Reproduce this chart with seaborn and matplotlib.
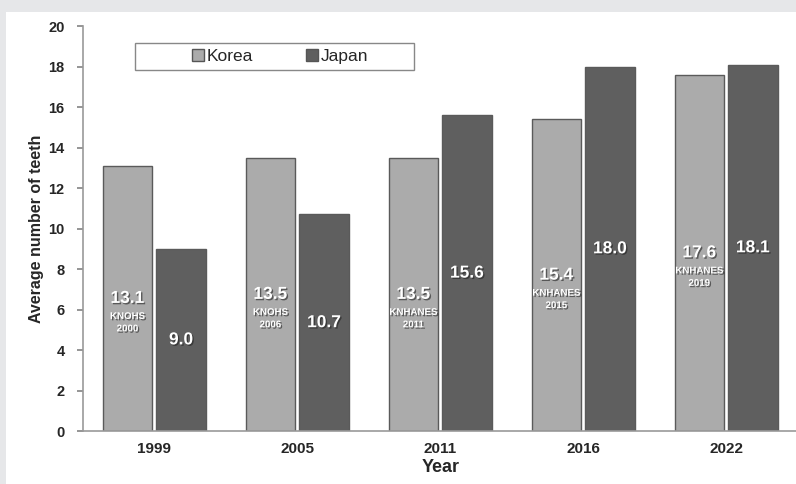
import matplotlib
matplotlib.use("Agg")
import matplotlib.pyplot as plt
import matplotlib.patheffects as pe
from matplotlib.patches import Rectangle
import seaborn as sns
import pandas as pd

# Data
years = ["1999", "2005", "2011", "2016", "2022"]
korea = [13.1, 13.5, 13.5, 15.4, 17.6]
japan = [9.0, 10.7, 15.6, 18.0, 18.1]
korea_source = ["KNOHS\n2000", "KNOHS\n2006", "KNHANES\n2011", "KNHANES\n2015", "KNHANES\n2019"]

df = pd.DataFrame({
    "Year": years * 2,
    "teeth": korea + japan,
    "Country": ["Korea"] * len(years) + ["Japan"] * len(years),
})

sns.set_theme(style="white")
plt.rcParams["font.family"] = ["Liberation Sans", "DejaVu Sans"]

fig = plt.figure(figsize=(7.96, 4.84), dpi=100, facecolor="#e6e7e9")
# white panel inside the grey frame
fig.patches.append(Rectangle((6 / 796, 0), 1, 1 - 12 / 484, transform=fig.transFigure,
                             facecolor="white", edgecolor="none", zorder=-5))
ax = fig.add_axes([0.104, 0.1095, 0.898, 0.8365])
ax.set_facecolor("white")

palette = {"Korea": "#ababab", "Japan": "#5f5f5f"}
sns.barplot(data=df, x="Year", y="teeth", hue="Country", palette=palette,
            width=0.75, gap=0.08, edgecolor="#5a5a5a", linewidth=1.0,
            saturation=1, ax=ax)

shadow = [pe.withSimplePatchShadow(offset=(1, -1), shadow_rgbFace="#222222", alpha=0.6)]
k_bars, j_bars = ax.containers[0], ax.containers[1]
for bar, v, src in zip(k_bars, korea, korea_source):
    cx = bar.get_x() + bar.get_width() / 2
    ax.text(cx, v / 2, f"{v:.1f}", ha="center", va="center", color="white",
            fontsize=12.5, fontweight="bold", path_effects=shadow)
    ax.text(cx, v / 2 - 0.62, src, ha="center", va="top", color="white",
            fontsize=7, fontweight="bold", linespacing=1.3, path_effects=shadow)
for bar, v in zip(j_bars, japan):
    cx = bar.get_x() + bar.get_width() / 2
    ax.text(cx, v / 2, f"{v:.1f}", ha="center", va="center", color="white",
            fontsize=12.5, fontweight="bold", path_effects=shadow)

ax.set_ylim(0, 20)
ax.set_xlim(-0.5, 4.5)
ax.set_yticks(range(0, 21, 2))
ax.tick_params(axis="y", which="both", left=True, length=4, color="#888888",
               labelsize=10.5, pad=9)
ax.tick_params(axis="x", bottom=False, labelsize=11, pad=2)
for lab in ax.get_xticklabels() + ax.get_yticklabels():
    lab.set_fontweight("bold")

ax.set_xlabel("Year", fontsize=13, fontweight="bold", labelpad=2)
ax.set_ylabel("Average number of teeth", fontsize=11.5, fontweight="bold", labelpad=3)

sns.despine(ax=ax)
for s in ["left", "bottom"]:
    ax.spines[s].set_color("#999999")
    ax.spines[s].set_linewidth(1.2)

# legend without its own frame, centred in a wide box like the original
leg = ax.legend(loc="center", bbox_to_anchor=(0.276, 0.9245), ncol=2,
                frameon=False, fontsize=12.5, handlelength=0.65,
                handleheight=0.65, handletextpad=0.15, columnspacing=3.1,
                borderpad=0, borderaxespad=0)
for h in leg.legend_handles:
    h.set_edgecolor("#555555")
ax.add_patch(Rectangle((0.0727, 0.891), 0.391, 0.067, transform=ax.transAxes,
                       facecolor="white", edgecolor="#888888", linewidth=1.0,
                       zorder=4, clip_on=False))
leg.set_zorder(5)

fig.savefig("out.png", dpi=100, facecolor=fig.get_facecolor())
